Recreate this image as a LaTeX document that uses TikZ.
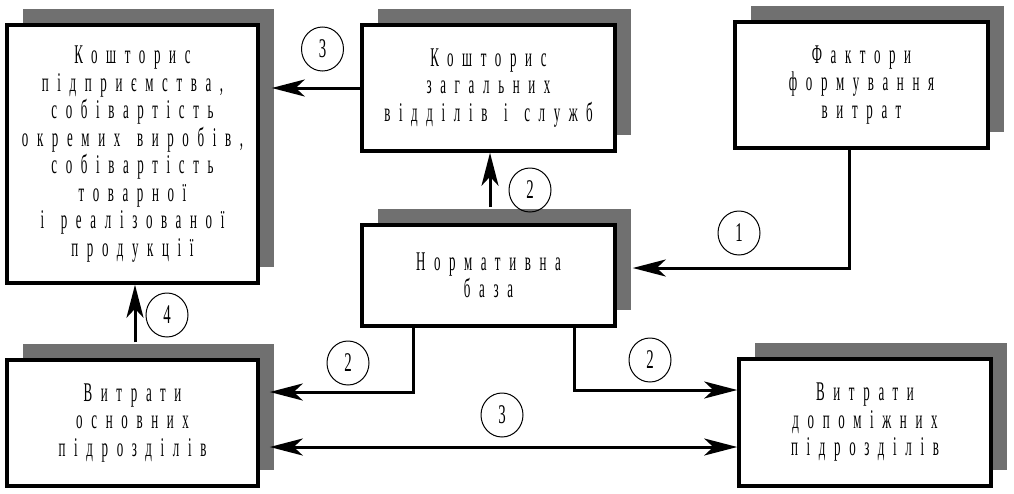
\documentclass[tikz,border=0pt]{standalone}
\usepackage{fontspec}
\usetikzlibrary{arrows.meta,shapes.geometric,shadows}
\newfontfamily\cf[FakeStretch=0.48,LetterSpace=32,WordSpace=1.4]{Liberation Serif}
\newfontfamily\cfd[FakeStretch=0.55]{Liberation Serif}
\definecolor{shd}{RGB}{112,112,112}
\begin{document}
\begin{tikzpicture}[x=1pt,y=-1pt,
  box/.style={draw=black,line width=3.5pt,fill=white,inner sep=0pt,align=center,
    font=\cf\fontsize{27}{27.5}\selectfont,
    drop shadow={shadow xshift=16pt,shadow yshift=16pt,fill=shd,opacity=1}},
  num/.style={ellipse,draw=black,line width=1pt,minimum width=42pt,minimum height=44pt,
    inner sep=0pt,font=\cfd\fontsize{27}{27}\selectfont},
  arr/.style={line width=3pt,-{Stealth[length=33pt,width=17pt,inset=9pt]}},
  arrb/.style={line width=3pt,{Stealth[length=33pt,width=17pt,inset=9pt]}-{Stealth[length=33pt,width=17pt,inset=9pt]}}]
\useasboundingbox (0,0) rectangle (1014,493);
\node[box,minimum width=251pt,minimum height=258pt] (A) at (132.5,154)
  {Кошторис\\підприємства,\\собівартість\\окремих виробів,\\собівартість\\товарної\\і реалізованої\\продукції};
\node[box,minimum width=253pt,minimum height=126pt] (B) at (488.5,88)
  {Кошторис\\загальних\\відділів і служб};
\node[box,minimum width=253pt,minimum height=126pt] (F) at (861.5,85)
  {Фактори\\формування\\витрат};
\node[box,minimum width=253pt,minimum height=101pt] (N) at (488.5,275.5)
  {Нормативна\\база};
\node[box,minimum width=251pt,minimum height=126pt] (V1) at (132.5,423)
  {Витрати\\основних\\підрозділів};
\node[box,minimum width=252pt,minimum height=127pt] (V2) at (865,422.5)
  {Витрати\\допоміжних\\підрозділів};
% connectors
\draw[arr] (B.west) -- ([xshift=12pt]B.west -| A.east);
\draw[arr] ([xshift=1.5pt,yshift=16pt]N.north) -- ([xshift=1.5pt]B.south);
\draw[arr] ([xshift=-12pt]F.south) |- ([xshift=16pt,yshift=7.5pt]N.east);
\draw[arr] ([xshift=2.5pt,yshift=16pt]V1.north) -- ([xshift=2.5pt]A.south);
\draw[arr] ([xshift=53pt]N.south west) |- ([xshift=10pt,yshift=31pt]V1.east);
\draw[arr] ([xshift=-42pt]N.south east) |- ([yshift=32.5pt]V2.west);
\draw[arrb] ([xshift=10pt,yshift=-24pt]V1.east) -- ([yshift=-24pt]V1.east -| V2.west);
% numbers
\node[num] (n3a) at (322.5,49) {3};
\node[num] (n2a) at (530,190) {2};
\node[num] (n1) at (739,233) {1};
\node[num] (n4) at (167,315) {4};
\node[num] (n2b) at (348,363) {2};
\node[num] (n2c) at (650,360) {2};
\node[num] (n3b) at (502,415) {3};
\end{tikzpicture}
\end{document}
